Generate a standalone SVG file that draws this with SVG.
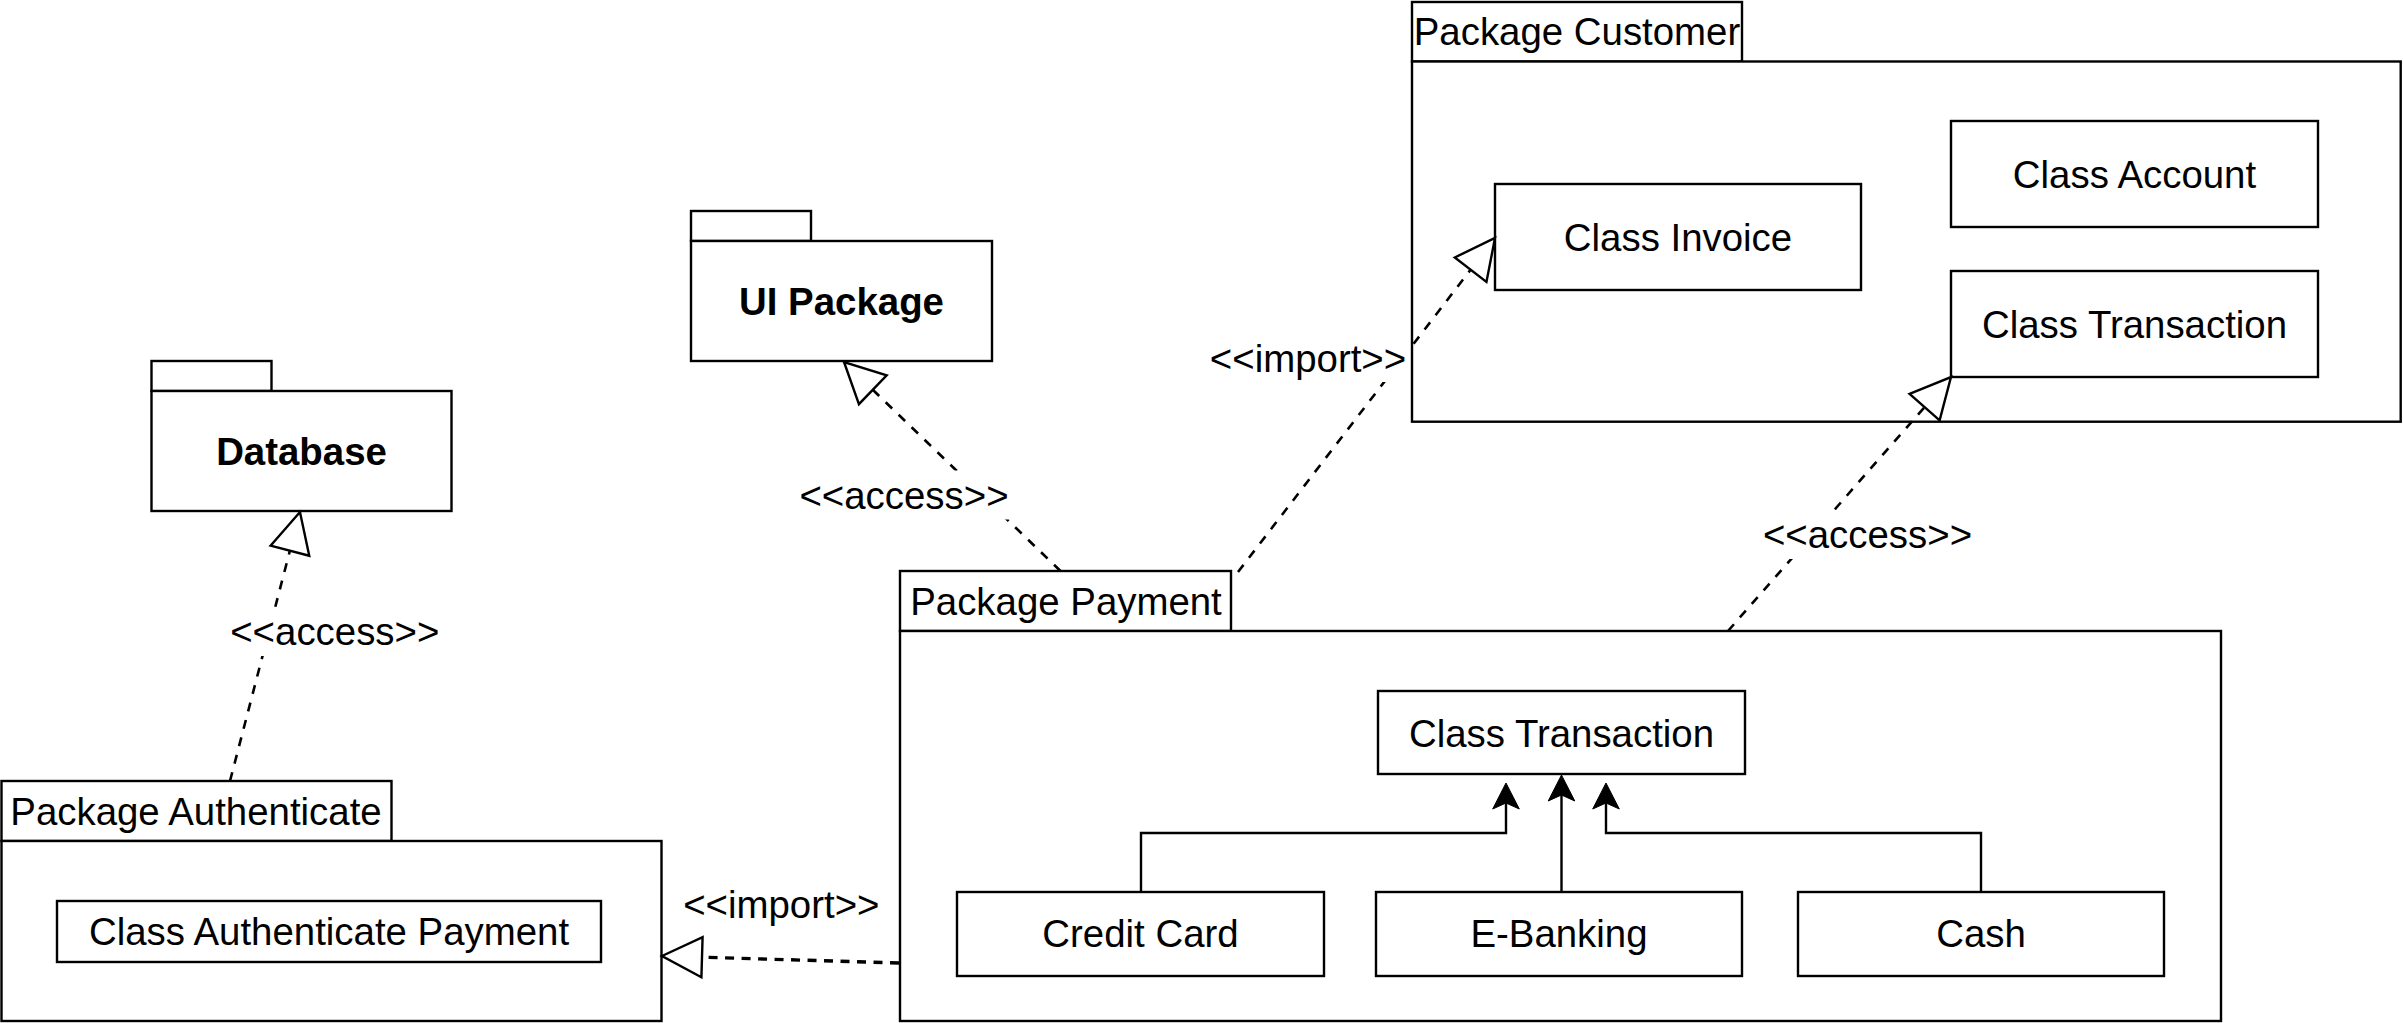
<svg xmlns="http://www.w3.org/2000/svg" width="2403" height="1023" viewBox="0 0 2403 1023">
<style>
.box{fill:#fff;stroke:#000;stroke-width:2.4}
.t{font-family:"Liberation Sans",Arial,Helvetica,sans-serif;font-size:38.4px;fill:#000;text-anchor:middle}
.b{font-weight:bold}
.dash{fill:none;stroke:#000;stroke-width:2.6;stroke-dasharray:9 9}
.solid{fill:none;stroke:#000;stroke-width:2.4}
.lbg{fill:#fff;stroke:none}
</style>
<defs>
<marker id="hollow" markerUnits="userSpaceOnUse" markerWidth="46" markerHeight="46" viewBox="-3 -3 46 46" refX="0" refY="20" orient="auto" overflow="visible">
<path d="M0,0 L40,20 L0,40 Z" fill="#fff" stroke="#000" stroke-width="2.4" stroke-dasharray="none"/>
</marker>
<marker id="classic" markerUnits="userSpaceOnUse" markerWidth="30" markerHeight="30" viewBox="0 0 30 30" refX="6" refY="13.3" orient="auto" overflow="visible">
<path d="M26,13.3 L0,0 L6,13.3 L0,26.6 Z" fill="#000" stroke="#000" stroke-width="1" stroke-dasharray="none"/>
</marker>
</defs>
<rect width="2403" height="1023" fill="#fff"/>

<g id="pkg-customer">
<rect class="box" x="1412" y="2" width="330" height="59.5"/>
<rect class="box" x="1412" y="61.5" width="988.7" height="360.2"/>
<text class="t" x="1577" y="45">Package Customer</text>
</g>
<g id="class-invoice">
<rect class="box" x="1495" y="184" width="366" height="106"/>
<text class="t" x="1678" y="250.5">Class Invoice</text>
</g>
<g id="class-account">
<rect class="box" x="1951" y="121" width="367" height="106"/>
<text class="t" x="2134.5" y="187.5">Class Account</text>
</g>
<g id="class-transaction-customer">
<rect class="box" x="1951" y="271" width="367" height="106"/>
<text class="t" x="2134.5" y="337.5">Class Transaction</text>
</g>

<g id="ui-package">
<rect class="box" x="691" y="211" width="120" height="30"/>
<rect class="box" x="691" y="241" width="301" height="120"/>
<text class="t b" x="841.5" y="314.5">UI Package</text>
</g>
<g id="database">
<rect class="box" x="151.5" y="361" width="120" height="30"/>
<rect class="box" x="151.5" y="391" width="300" height="120"/>
<text class="t b" x="301.5" y="464.5">Database</text>
</g>

<g id="pkg-authenticate">
<rect class="box" x="1.5" y="781" width="390" height="60"/>
<rect class="box" x="1.5" y="841" width="660" height="180"/>
<text class="t" x="196" y="824.5">Package Authenticate</text>
</g>
<g id="class-authenticate-payment">
<rect class="box" x="57" y="901" width="544" height="61"/>
<text class="t" x="329" y="945">Class Authenticate Payment</text>
</g>

<g id="pkg-payment">
<rect class="box" x="900" y="571" width="331" height="60"/>
<rect class="box" x="900" y="631" width="1321" height="390"/>
<text class="t" x="1066" y="614.5">Package Payment</text>
</g>
<g id="class-transaction-payment">
<rect class="box" x="1378" y="691" width="367" height="83"/>
<text class="t" x="1561.5" y="746.5">Class Transaction</text>
</g>
<g id="credit-card">
<rect class="box" x="957" y="892" width="367" height="84"/>
<text class="t" x="1140.5" y="947">Credit Card</text>
</g>
<g id="e-banking">
<rect class="box" x="1376" y="892" width="366" height="84"/>
<text class="t" x="1559" y="947">E-Banking</text>
</g>
<g id="cash">
<rect class="box" x="1798" y="892" width="366" height="84"/>
<text class="t" x="1981" y="947">Cash</text>
</g>

<g id="connectors">
<path class="dash" d="M230,781 L289.9,550.7" marker-end="url(#hollow)"/>
<path class="dash" d="M1060.5,571 L872.8,389.8" marker-end="url(#hollow)"/>
<path class="dash" d="M1238,572 L1470.6,269.7" marker-end="url(#hollow)"/>
<path class="dash" d="M1728,631 L1924.6,407.1" marker-end="url(#hollow)"/>
<path class="dash" style="stroke-width:3.4;stroke-dasharray:9 7.5" d="M899,963 L702,957.2" marker-end="url(#hollow)"/>
<path class="solid" d="M1141,892 L1141,833 L1506,833 L1506,803" marker-end="url(#classic)"/>
<path class="solid" d="M1561.5,892 L1561.5,795" marker-end="url(#classic)"/>
<path class="solid" d="M1981,892 L1981,833 L1606,833 L1606,803" marker-end="url(#classic)"/>
<rect class="lbg" x="228" y="607" width="214" height="49"/>
<text class="t" x="334.8" y="645">&lt;&lt;access&gt;&gt;</text>
<rect class="lbg" x="797" y="470.5" width="213" height="49"/>
<text class="t" x="904" y="508.5">&lt;&lt;access&gt;&gt;</text>
<rect class="lbg" x="1207" y="334" width="202" height="48"/>
<text class="t" x="1308" y="371.7">&lt;&lt;import&gt;&gt;</text>
<rect class="lbg" x="1761" y="510" width="212" height="49"/>
<text class="t" x="1867.5" y="548">&lt;&lt;access&gt;&gt;</text>
<rect class="lbg" x="680" y="880" width="203" height="48"/>
<text class="t" x="781.3" y="918">&lt;&lt;import&gt;&gt;</text>
</g>
</svg>
